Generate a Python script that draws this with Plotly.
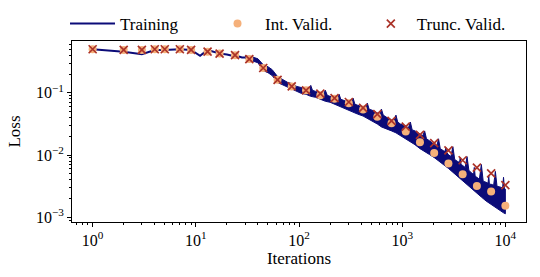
import plotly.graph_objects as go
import numpy as np

# ---------------- data ----------------
# Training loss: clean early part of the curve
train_iters = [1, 2, 3, 4, 5, 7, 9, 11, 13, 17, 20, 22, 24, 28, 30]
train_loss = [0.503, 0.460, 0.419, 0.490, 0.490, 0.503, 0.490, 0.394, 0.490,
              0.428, 0.415, 0.400, 0.403, 0.370, 0.370]

# Training loss, noisy part: lower edge of the oscillation band
lower_iters = [30, 35, 40, 45, 50, 55, 62, 70, 78, 85, 95, 105, 117, 130, 145, 161,
               180, 200, 221, 245, 270, 304, 335, 370, 418, 460, 510, 574, 630, 700,
               788, 870, 960, 1083, 1200, 1330, 1487, 1650, 1840, 2043, 2250, 2500,
               2807, 3100, 3450, 3856, 4250, 4750, 5298, 5850, 6500, 7278, 8000,
               9000, 9600, 10000]
lower_vals = [0.359, 0.328, 0.305, 0.2276, 0.2115, 0.1896, 0.1468, 0.132, 0.122, 0.114,
              0.1056, 0.0982, 0.0947, 0.0880, 0.0848, 0.0789, 0.0733, 0.0707, 0.0657,
              0.0611, 0.0568, 0.0528, 0.0490, 0.0456, 0.0424, 0.0394, 0.0353, 0.0316,
              0.02835, 0.0263, 0.0245, 0.0228, 0.0212, 0.0183, 0.0164, 0.0147, 0.0127,
              0.0114, 0.0102, 0.00913, 0.00818, 0.00707, 0.00611, 0.00528, 0.00456,
              0.00380, 0.00328, 0.00284, 0.00245, 0.00212, 0.00183, 0.00158, 0.00142,
              0.00127, 0.00118, 0.00114]

# Training loss, noisy part: upper (spiky) edge of the oscillation band
upper_iters = [30, 35, 40, 45, 50, 55, 62, 70, 78, 85, 95, 105, 117, 125, 130, 135,
               145, 161, 172, 180, 188, 200, 221, 236, 245, 254, 270, 304, 322, 335,
               348, 370, 418, 442, 460, 478, 510, 574, 605, 630, 655, 700, 788, 835,
               870, 905, 960, 1083, 1150, 1200, 1250, 1330, 1487, 1580, 1650, 1720,
               1840, 2043, 2160, 2250, 2340, 2500, 2600, 2650, 2700, 2807, 2960, 3100,
               3230, 3450, 3600, 3650, 3720, 3856, 4080, 4250, 4430, 4750, 4920, 5000,
               5100, 5298, 5600, 5850, 6100, 6500, 6800, 6900, 7000, 7278, 7700, 8000,
               8300, 9000, 9400, 9600, 9800, 10000]
upper_vals = [0.394, 0.380, 0.353, 0.2835, 0.2634, 0.236, 0.1828, 0.164, 0.1468, 0.1415,
              0.127, 0.122, 0.1179, 0.114, 0.132, 0.110, 0.1056, 0.0982, 0.0947, 0.110,
              0.0913, 0.0880, 0.0848, 0.0789, 0.0947, 0.0789, 0.0760, 0.0707, 0.0681,
              0.0818, 0.0657, 0.0633, 0.0589, 0.0568, 0.0681, 0.0547, 0.0528, 0.0473,
              0.0456, 0.0547, 0.0439, 0.0408, 0.0366, 0.0353, 0.0439, 0.0340, 0.0316,
              0.0294, 0.0273, 0.0340, 0.0254, 0.0245, 0.0219, 0.0204, 0.0245, 0.0183,
              0.0170, 0.0147, 0.01365, 0.0183, 0.0127, 0.0118, 0.0114, 0.0132, 0.0110,
              0.0102, 0.00946, 0.01365, 0.00848, 0.00789, 0.00760, 0.00913, 0.00707,
              0.00681, 0.00633, 0.00946, 0.00568, 0.00509, 0.00490, 0.00633, 0.00456,
              0.00439, 0.00409, 0.00707, 0.00380, 0.00366, 0.00353, 0.00473, 0.00340,
              0.00340, 0.00328, 0.00547, 0.00316, 0.00305, 0.00294, 0.00440, 0.00284,
              0.00284]

# Validation checkpoints
valid_iters = [1, 2, 3, 4, 5, 7, 9, 13, 17, 24, 33, 45, 62, 85, 117, 161, 221, 304,
               418, 574, 788, 1083, 1487, 2043, 2807, 3856, 5298, 7278, 10000]
int_valid = [0.503, 0.490, 0.490, 0.503, 0.503, 0.503, 0.490, 0.460, 0.428, 0.403,
             0.349, 0.251, 0.162, 0.127, 0.110, 0.0912, 0.0804, 0.0681, 0.0541,
             0.0413, 0.0324, 0.0239, 0.0161, 0.0108, 0.00733, 0.00490, 0.00320,
             0.00261, 0.00154]
trunc_valid = [0.503, 0.490, 0.490, 0.503, 0.503, 0.503, 0.490, 0.460, 0.428, 0.403,
               0.349, 0.251, 0.162, 0.127, 0.110, 0.0971, 0.0826, 0.0714, 0.0574,
               0.0456, 0.0356, 0.0286, 0.0211, 0.0156, 0.0119, 0.00826, 0.00627,
               0.00508, 0.00328]

# Tick labels
x_tick_vals = [1, 10, 100, 1000, 10000]
x_tick_text = ["10<sup>0</sup>", "10<sup>1</sup>", "10<sup>2</sup>", "10<sup>3</sup>", "10<sup>4</sup>"]
y_tick_vals = [0.001, 0.01, 0.1]
y_tick_text = ["10<sup>\u22123</sup>", "10<sup>\u22122</sup>", "10<sup>\u22121</sup>"]

# ---------------- styling ----------------
NAVY = "#0b0b78"
ORANGE = "#f5b07a"
RED = "#ab3329"
FONT = "'Liberation Serif', 'Times New Roman', 'DejaVu Serif', serif"

x_minor = [m * 10.0 ** e for e in range(-1, 5) for m in range(2, 10)]
x_minor = [v for v in x_minor if 0.63 < v < 15800]
y_minor = [m * 10.0 ** e for e in range(-4, 0) for m in range(2, 10)]

all_vals = train_loss + lower_vals + upper_vals + int_valid + trunc_valid
lo, hi = np.log10(min(all_vals)), np.log10(max(all_vals))
pad = 0.05 * (hi - lo)

fig = go.Figure()

# noisy band of the training loss (no legend entry)
fig.add_trace(go.Scatter(
    x=upper_iters + lower_iters[::-1],
    y=upper_vals + lower_vals[::-1],
    mode="lines", fill="toself", fillcolor=NAVY,
    line=dict(color=NAVY, width=1), showlegend=False, hoverinfo="skip"))

fig.add_trace(go.Scatter(
    x=train_iters, y=train_loss, mode="lines", name="Training",
    line=dict(color=NAVY, width=2), legend="legend"))

fig.add_trace(go.Scatter(
    x=valid_iters, y=int_valid, mode="markers", name="Int. Valid.",
    marker=dict(symbol="circle", size=8, color=ORANGE), legend="legend2"))

fig.add_trace(go.Scatter(
    x=valid_iters, y=trunc_valid, mode="markers", name="Trunc. Valid.",
    marker=dict(symbol="x-thin", size=8, line=dict(width=1.7, color=RED)),
    legend="legend3"))

axis_common = dict(
    type="log", showline=True, linecolor="black", linewidth=1, mirror=True,
    showgrid=False, zeroline=False, ticks="outside", ticklen=4, tickwidth=1,
    tickcolor="black", tickmode="array", tickfont=dict(family=FONT, size=16, color="black"),
)

legend_common = dict(y=1.094, xanchor="left", yanchor="middle", orientation="h",
                     bgcolor="rgba(0,0,0,0)", borderwidth=0,
                     font=dict(family=FONT, size=17, color="black"))

fig.update_layout(
    width=540, height=277,
    margin=dict(l=72, r=14, t=41, b=55, autoexpand=False),
    plot_bgcolor="white", paper_bgcolor="white",
    font=dict(family=FONT, size=17, color="black"),
    xaxis=dict(**axis_common, range=[-0.2, 4.2], tickvals=x_tick_vals, ticktext=x_tick_text,
               title=dict(text="Iterations", standoff=3, font=dict(family=FONT, size=17)),
               minor=dict(tickmode="array", tickvals=x_minor, ticks="outside", ticklen=2,
                          tickwidth=0.8, tickcolor="black", showgrid=False)),
    yaxis=dict(**axis_common, range=[lo - pad, hi + pad], tickvals=y_tick_vals, ticktext=y_tick_text,
               title=dict(text="Loss", standoff=10, font=dict(family=FONT, size=17)),
               minor=dict(tickmode="array", tickvals=y_minor, ticks="outside", ticklen=2,
                          tickwidth=0.8, tickcolor="black", showgrid=False)),
    legend=dict(x=-0.0154, itemwidth=45, **legend_common),
    legend2=dict(x=0.304, itemwidth=45, **legend_common),
    legend3=dict(x=0.645, itemwidth=42, **legend_common),
)

fig.write_html("out.html", config={"displayModeBar": False},
               post_script="document.body.style.margin='0';document.body.style.padding='0';")
